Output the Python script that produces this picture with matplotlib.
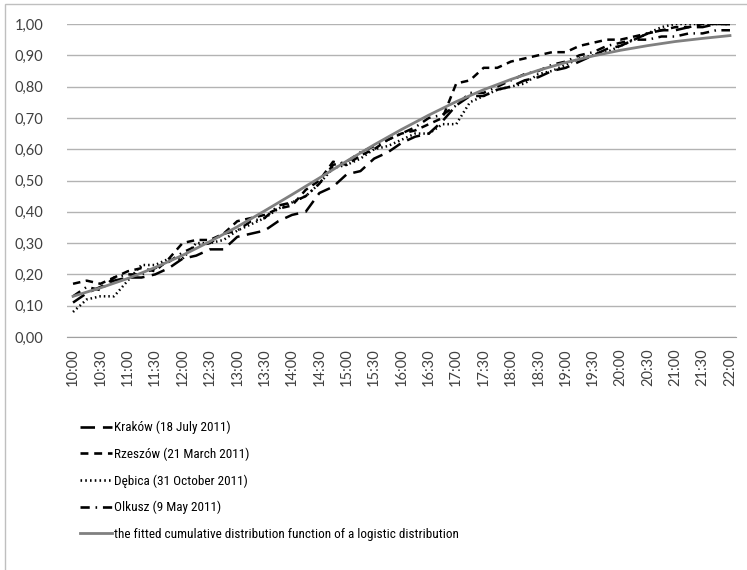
import numpy as np
import matplotlib.pyplot as plt
from matplotlib import font_manager
from matplotlib.lines import Line2D
from matplotlib.patches import Rectangle

# half-hour tick labels, data every 15 minutes
tick_labels = ["10:00", "10:30", "11:00", "11:30", "12:00", "12:30", "13:00", "13:30",
               "14:00", "14:30", "15:00", "15:30", "16:00", "16:30", "17:00", "17:30",
               "18:00", "18:30", "19:00", "19:30", "20:00", "20:30", "21:00", "21:30", "22:00"]

krakow = [0.11, 0.14, 0.16, 0.18, 0.19, 0.19, 0.20, 0.22, 0.25, 0.26, 0.28, 0.28, 0.32,
          0.33, 0.34, 0.37, 0.39, 0.40, 0.46, 0.48, 0.52, 0.53, 0.57, 0.59, 0.62, 0.64,
          0.65, 0.69, 0.74, 0.77, 0.77, 0.79, 0.80, 0.82, 0.83, 0.85, 0.86, 0.88, 0.90,
          0.92, 0.93, 0.95, 0.97, 0.98, 0.98, 0.99, 0.99, 1.00, 1.00]
rzeszow = [0.17, 0.18, 0.17, 0.19, 0.21, 0.22, 0.21, 0.25, 0.30, 0.31, 0.31, 0.33, 0.37,
           0.38, 0.39, 0.41, 0.42, 0.47, 0.50, 0.56, 0.55, 0.58, 0.60, 0.63, 0.65, 0.66,
           0.68, 0.70, 0.81, 0.82, 0.86, 0.86, 0.88, 0.89, 0.90, 0.91, 0.91, 0.93, 0.94,
           0.95, 0.95, 0.96, 0.97, 0.98, 0.99, 0.99, 1.00, 1.00, 1.00]
debica = [0.08, 0.12, 0.13, 0.13, 0.18, 0.23, 0.23, 0.25, 0.25, 0.30, 0.30, 0.31, 0.34,
          0.36, 0.38, 0.41, 0.43, 0.45, 0.49, 0.54, 0.55, 0.57, 0.60, 0.61, 0.63, 0.65,
          0.65, 0.68, 0.68, 0.75, 0.77, 0.79, 0.80, 0.81, 0.84, 0.85, 0.87, 0.89, 0.90,
          0.91, 0.93, 0.95, 0.97, 0.99, 1.00, 1.00, 1.00, 1.00, 1.00]
olkusz = [0.13, 0.16, 0.15, 0.19, 0.20, 0.20, 0.22, 0.24, 0.27, 0.29, 0.30, 0.33, 0.34,
          0.37, 0.38, 0.42, 0.43, 0.45, 0.49, 0.55, 0.56, 0.59, 0.61, 0.63, 0.65, 0.67,
          0.70, 0.71, 0.74, 0.78, 0.78, 0.80, 0.82, 0.84, 0.85, 0.87, 0.88, 0.90, 0.91,
          0.93, 0.94, 0.95, 0.95, 0.96, 0.96, 0.97, 0.97, 0.98, 0.98]
# fitted logistic CDF, read at each half hour
fitted = [0.130, 0.157, 0.187, 0.222, 0.261, 0.305, 0.352, 0.403, 0.455, 0.508, 0.562,
          0.614, 0.663, 0.709, 0.752, 0.790, 0.823, 0.852, 0.877, 0.898, 0.916, 0.931,
          0.944, 0.954, 0.963]

labels = ["Kraków (18 July 2011)", "Rzeszów (21 March 2011)", "Dębica (31 October 2011)",
          "Olkusz (9 May 2011)",
          "the fitted cumulative distribution function of a logistic distribution"]

plt.rcParams['font.family'] = ['Lato', 'DejaVu Sans']

# pick a narrow face for the legend if one is installed (Calibri-like width)
fonts = font_manager.fontManager.ttflist
names = {f.name for f in fonts}
if 'Liberation Sans Narrow' in names:
    leg_prop = {'family': ['Liberation Sans Narrow', 'DejaVu Sans'], 'size': 9.7}
elif 'Roboto Condensed' in names:
    leg_prop = {'family': ['Roboto Condensed', 'DejaVu Sans'], 'size': 9.5}
elif any(f.name == 'DejaVu Sans' and f.stretch == 'condensed' for f in fonts):
    leg_prop = {'family': ['DejaVu Sans'], 'stretch': 'condensed', 'size': 8.5}
else:
    leg_prop = {'family': ['Lato', 'DejaVu Sans'], 'size': 8.4}

fig = plt.figure(figsize=(7.47, 5.70), dpi=100)
ax = fig.add_axes([67 / 747, 1 - 337 / 570, (736 - 67) / 747, (337 - 24) / 570])

x = np.arange(len(krakow))
xf = np.arange(len(fitted)) * 2

styles = [(0, (5.5, 3)), (0, (3, 2.2)), (0, (0.6, 1.2)), (0, (3.5, 2.2, 0.6, 2.2))]
series = [krakow, rzeszow, debica, olkusz]
for s, ls, lab in zip(series, styles, labels):
    ax.plot(x, s, color='black', lw=1.8, linestyle=ls, label=lab)
ax.plot(xf, fitted, color='#808080', lw=2, label=labels[4])

ax.set_xlim(-0.44, 48.44)
ax.set_ylim(0, 1)
ax.set_yticks(np.arange(0, 1.01, 0.1))
ax.set_yticklabels([f"{v:.2f}".replace('.', ',') for v in np.arange(0, 1.01, 0.1)])
ax.set_xticks(xf)
ax.set_xticklabels(tick_labels, rotation=90)
ax.tick_params(length=0, labelsize=10.5, colors='#404040')
ax.tick_params(axis='y', pad=17)
ax.tick_params(axis='x', pad=8)
ax.grid(axis='y', color='#b3b3b3', lw=1)
ax.set_axisbelow(True)
for sp in ['top', 'right', 'left']:
    ax.spines[sp].set_visible(False)
ax.spines['bottom'].set_color('#a0a0a0')

fs = leg_prop['size']
handles = [Line2D([], [], color='black', lw=1.9, linestyle=ls) for ls in styles]
handles.append(Line2D([], [], color='#808080', lw=2))
fig.legend(handles, labels, loc='upper left', bbox_to_anchor=(80 / 747, 1 - 421 / 570),
           frameon=False, handlelength=23 / fs, handletextpad=1.5 / fs,
           labelspacing=(19.9 - 1.09 * fs) / fs, borderpad=0, borderaxespad=0,
           prop=leg_prop)

fig.patches.append(Rectangle((5 / 747, -0.1), 1.2, 1.1 - 4 / 570, transform=fig.transFigure,
                             fill=False, edgecolor='#bfbfbf', lw=1))

fig.savefig('out.png', dpi=100)
